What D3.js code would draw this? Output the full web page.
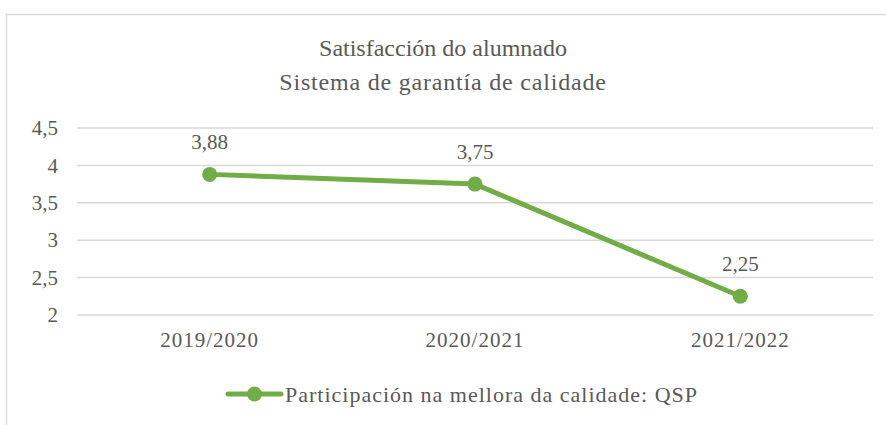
<!DOCTYPE html>
<html>
<head>
<meta charset="utf-8">
<script src="https://cdn.jsdelivr.net/npm/d3@7"></script>
<style>
  body { margin: 0; background: #fff; }
</style>
</head>
<body>
<svg id="chart" width="886" height="425"></svg>
<script>
// data
const categories = ['2019/2020', '2020/2021', '2021/2022'];
const values = [3.88, 3.75, 2.25];
const yTicks = [2, 2.5, 3, 3.5, 4, 4.5];
const titleLines = ['Satisfacción do alumnado', 'Sistema de garantía de calidade'];
const seriesName = 'Participación na mellora da calidade: QSP';

const FONT = "'Liberation Serif', 'Times New Roman', 'DejaVu Serif', Times, serif";
const GREEN = '#70ad47';
const GRID = '#d9d9d9';
const TXT = '#595959';
const fmt = v => String(v).replace('.', ',');

const svg = d3.select('#chart');

// chart frame
svg.append('rect')
  .attr('x', 6.5).attr('y', 14.5)
  .attr('width', 890).attr('height', 420)
  .attr('fill', '#fff').attr('stroke', GRID).attr('stroke-width', 1.5);

// title
svg.append('g').selectAll('text')
  .data(titleLines)
  .enter().append('text')
  .attr('x', 443).attr('y', (d, i) => 56 + i * 34)
  .attr('text-anchor', 'middle')
  .style('font-family', FONT).style('fill', TXT)
  .style('font-size', '24px')
  .style('letter-spacing', (d, i) => i ? '0.8px' : '0px')
  .text(d => d);

const x = d3.scaleBand().domain(categories).range([77, 873]);
const y = d3.scaleLinear().domain([2, 4.5]).range([315, 128]);

// gridlines
svg.append('g').selectAll('line')
  .data(yTicks)
  .enter().append('line')
  .attr('x1', 77).attr('x2', 873)
  .attr('y1', d => y(d)).attr('y2', d => y(d))
  .attr('stroke', GRID).attr('stroke-width', 1.5);

// y axis
const yAxis = svg.append('g')
  .attr('transform', 'translate(77,0)')
  .call(d3.axisLeft(y).tickValues(yTicks).tickFormat(fmt).tickSize(0).tickPadding(19));
yAxis.select('.domain').remove();
yAxis.selectAll('text').style('font-size', '21px').style('font-family', FONT).style('fill', TXT);

// x axis
const xAxis = svg.append('g')
  .attr('transform', 'translate(0,315)')
  .call(d3.axisBottom(x).tickSize(0).tickPadding(17));
xAxis.select('.domain').remove();
xAxis.selectAll('text').style('font-size', '21px').style('letter-spacing', '1px')
  .style('font-family', FONT).style('fill', TXT);

// line
const pts = categories.map((c, i) => ({ c, v: values[i] }));
const cx = d => x(d.c) + x.bandwidth() / 2;

svg.append('path')
  .datum(pts)
  .attr('fill', 'none')
  .attr('stroke', GREEN)
  .attr('stroke-width', 5)
  .attr('stroke-linejoin', 'round')
  .attr('d', d3.line().x(cx).y(d => y(d.v)));

svg.append('g').selectAll('circle')
  .data(pts)
  .enter().append('circle')
  .attr('cx', cx).attr('cy', d => y(d.v))
  .attr('r', 7.5)
  .attr('fill', GREEN);

// data labels
svg.append('g').selectAll('text')
  .data(pts)
  .enter().append('text')
  .attr('x', cx).attr('y', d => y(d.v) - 25)
  .attr('text-anchor', 'middle')
  .style('font-family', FONT).style('fill', TXT)
  .style('font-size', '21px')
  .text(d => fmt(d.v));

// legend
const leg = svg.append('g').attr('transform', 'translate(228,394)');
leg.append('line')
  .attr('x1', 0).attr('x2', 53)
  .attr('stroke', GREEN).attr('stroke-width', 5).attr('stroke-linecap', 'round');
leg.append('circle').attr('cx', 26.5).attr('r', 7.5).attr('fill', GREEN);
leg.append('text')
  .attr('x', 57).attr('y', 7.5)
  .style('font-family', FONT).style('fill', TXT)
  .style('font-size', '22px').style('letter-spacing', '1px')
  .text(seriesName);
</script>
</body>
</html>
